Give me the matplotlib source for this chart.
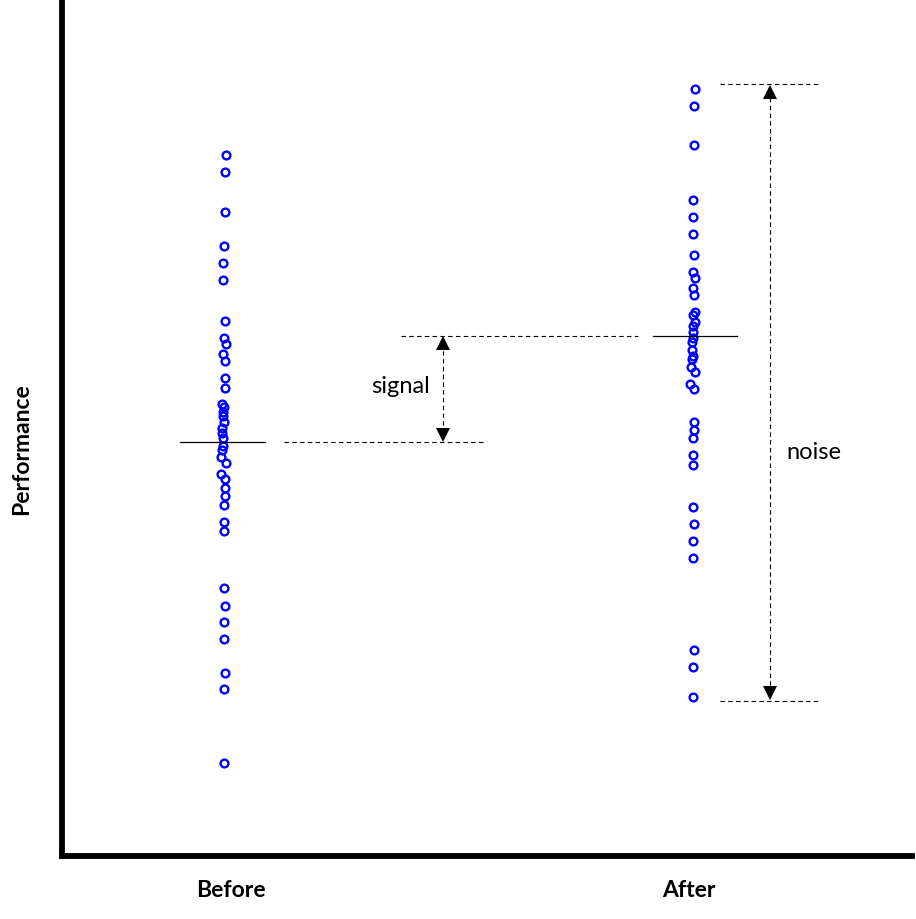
import matplotlib.pyplot as plt

plt.rcParams['font.family'] = ['Lato', 'DejaVu Sans']

# performance scores (0-100 scale, bottom axis = 0)
before_scores = [81.9, 79.9, 75.2, 71.3, 69.3, 67.3, 62.5, 60.5, 59.8, 58.6,
                 57.8, 55.8, 54.7, 52.8, 52.5, 51.9, 51.4, 50.7, 50.0, 49.4,
                 48.8, 47.9, 47.4, 46.6, 45.9, 44.6, 44.0, 43.0, 42.1, 41.0,
                 39.0, 38.0, 31.3, 29.2, 27.3, 25.4, 21.4, 19.5, 10.9]
before_x = [163.7, 162.7, 162.7, 161.7, 160.7, 160.7, 162.7, 161.7, 164.0, 161.3,
            162.7, 162.7, 162.7, 160.5, 162.5, 161.3, 161.3, 161.7, 160.3, 159.7,
            161.3, 160.7, 159.7, 158.7, 164.0, 158.7, 163.3, 162.7, 162.7, 161.7,
            161.7, 161.7, 161.7, 162.7, 161.7, 161.7, 162.7, 161.7, 161.7]

after_scores = [89.6, 87.6, 83.1, 76.6, 74.6, 72.7, 70.2, 68.2, 67.5, 66.4,
                65.5, 63.6, 63.2, 62.4, 61.9, 61.2, 60.5, 60.0, 59.1, 58.4,
                58.1, 57.1, 56.5, 55.1, 54.6, 50.7, 49.8, 48.8, 46.8, 45.7,
                40.8, 38.8, 36.8, 34.8, 24.1, 22.1, 18.6]
after_x = [632.7, 631.7, 631.7, 630.7, 630.7, 630.7, 631.7, 630.7, 633.3, 630.7,
           631.7, 632.7, 630.7, 633.3, 630.7, 631.3, 630.7, 629.7, 629.7, 631.3,
           629.7, 628.7, 633.3, 628.0, 632.3, 631.7, 631.7, 630.7, 630.7, 630.7,
           630.7, 631.7, 630.7, 630.7, 631.7, 630.7, 630.7]

before_mean = 48.4
after_mean = 60.7
noise_top = 90.2
noise_bottom = 18.1

group_labels = ["Before", "After"]
group_label_x = [169, 627]

fig = plt.figure(figsize=(9.16, 9.19), dpi=100)
ax = fig.add_axes([62 / 916, 63 / 919, 850 / 916, 856 / 919])
ax.set_xlim(0, 850)
ax.set_ylim(0, 100)

for side in ["top", "right"]:
    ax.spines[side].set_visible(False)
for side in ["left", "bottom"]:
    ax.spines[side].set_linewidth(4.2)
    ax.spines[side].set_capstyle("projecting")
ax.set_xticks([])
ax.set_yticks([])

blue = "#0000ff"
ax.plot(before_x, before_scores, "o", ms=5.6, mew=1.7, mfc="none", mec=blue, clip_on=False)
ax.plot(after_x, after_scores, "o", ms=5.6, mew=1.7, mfc="none", mec=blue, clip_on=False)

# group means
ax.plot([118, 203], [before_mean, before_mean], color="black", lw=0.9)
ax.plot([591, 675], [after_mean, after_mean], color="black", lw=0.9)

dash = (0, (4, 3))
# signal
ax.plot([222, 422], [before_mean, before_mean], color="black", lw=0.8, ls=dash)
ax.plot([339, 576], [after_mean, after_mean], color="black", lw=0.8, ls=dash)
sx = 381
ax.plot([sx, sx], [before_mean + 1, after_mean - 1], color="black", lw=0.8, ls=dash)
ax.plot(sx, after_mean - 0.8, marker="^", ms=10, color="black", mew=0)
ax.plot(sx, before_mean + 0.8, marker="v", ms=10, color="black", mew=0)
ax.text(339, 54.8, "signal", fontsize=17, ha="center", va="center")

# noise
ax.plot([658, 758], [noise_top, noise_top], color="black", lw=0.8, ls=dash)
ax.plot([658, 758], [noise_bottom, noise_bottom], color="black", lw=0.8, ls=dash)
nx = 708
ax.plot([nx, nx], [noise_bottom + 1, noise_top - 1], color="black", lw=0.8, ls=dash)
ax.plot(nx, noise_top - 1.0, marker="^", ms=10, color="black", mew=0)
ax.plot(nx, noise_bottom + 1.0, marker="v", ms=10, color="black", mew=0)
ax.text(752, 47.1, "noise", fontsize=17, ha="center", va="center")

for lab, lx in zip(group_labels, group_label_x):
    ax.text(lx, -0.04, lab, transform=ax.get_xaxis_transform(), fontsize=16.5,
            fontweight="bold", ha="center", va="center")

fig.text(22 / 916, 1 - 449 / 919, "Performance", rotation=90, fontsize=16.5,
         fontweight="bold", ha="center", va="center")

fig.savefig("out.png", dpi=100)
